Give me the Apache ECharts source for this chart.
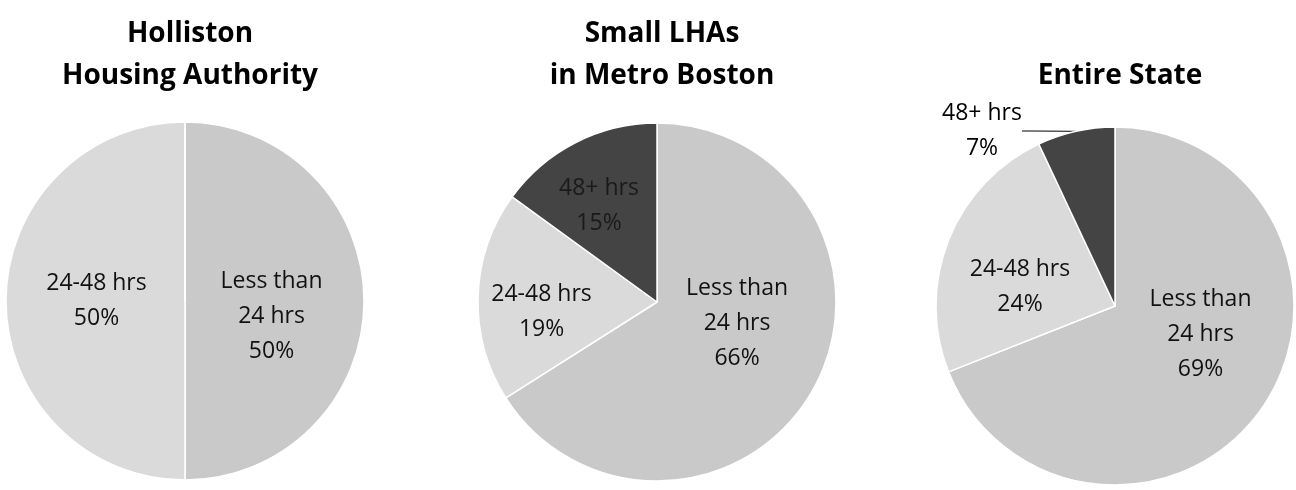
<!DOCTYPE html>
<html>
<head>
<meta charset="utf-8">
<script src="https://cdn.jsdelivr.net/npm/echarts@6/dist/echarts.min.js"></script>
<style>
  html, body { margin: 0; padding: 0; background: #fff; }
  #main { width: 1296px; height: 490px; }
</style>
</head>
<body>
<div id="main"></div>
<script>
// categories, clockwise from 12 o'clock
var categories = ['Less than 24 hrs', '24-48 hrs', '48+ hrs'];
var titles = ['Holliston\nHousing Authority', 'Small LHAs\nin Metro Boston', 'Entire State'];
var holliston = [50, 50, 0];
var metroBoston = [66, 19, 15];
var entireState = [69, 24, 7];

var colors = ['#c9c9c9', '#dadada', '#444444'];
var labelText = {
    'Less than 24 hrs': 'Less than\n24 hrs',
    '24-48 hrs': '24-48 hrs',
    '48+ hrs': '48+ hrs'
};

// nudges so labels sit where the original "best fit" put them
var nudges = [
    [[-6, 15], [4, 0], [0, 0]],
    [[-1, -23], [-23, 13], [-16, -14]],
    [[9, -24], [-9, 15], [0, 0]]
];

var centers = [[185, 301], [657, 302], [1115, 306]];
var allValues = [holliston, metroBoston, entireState];

var myChart = echarts.init(document.getElementById('main'));

function makeSeries(idx) {
    var vals = allValues[idx];
    var data = categories.map(function (c, i) {
        var item = { name: c, value: vals[i], itemStyle: { color: colors[i] } };
        if (vals[i] === 0) {
            item.label = { show: false };
        }
        if (i === 2) {
            item.label = item.label || {};
            item.label.color = '#1a1a1a';
        }
        if (idx === 2 && i === 2) {
            item.label = {
                position: 'outside',
                color: '#000'
            };
            item.labelLine = { show: true, length: 8, length2: 10, lineStyle: { color: '#000', width: 1 } };
        }
        return item;
    });
    return {
        type: 'pie',
        name: titles[idx],
        center: centers[idx],
        radius: [0, 179],
        startAngle: 90,
        clockwise: true,
        silent: true,
        animation: false,
        itemStyle: { borderColor: '#fff', borderWidth: 1.5 },
        label: {
            show: true,
            position: 'inside',
            fontFamily: 'Open Sans',
            fontSize: 23,
            lineHeight: 35,
            color: '#111',
            formatter: function (p) {
                return labelText[p.name] + '\n' + p.value + '%';
            }
        },
        labelLine: { show: false },
        labelLayout: function (p) {
            if (idx === 2 && p.dataIndex === 2) {
                return { x: 982, y: 131, align: 'center', verticalAlign: 'middle' };
            }
            var n = nudges[idx][p.dataIndex];
            return { dx: n[0], dy: n[1] };
        },
        data: data
    };
}

var titleTops = [8, 8, 50];
var option = {
    backgroundColor: '#fff',
    title: titles.map(function (t, i) {
        return {
            text: t,
            left: centers[i][0],
            top: titleTops[i],
            textAlign: 'center',
            textStyle: {
                fontFamily: 'Open Sans',
                fontWeight: 'bold',
                fontSize: 28,
                lineHeight: 42,
                color: '#000'
            }
        };
    }),
    series: [makeSeries(0), makeSeries(1), makeSeries(2)]
};

myChart.setOption(option);
</script>
</body>
</html>
